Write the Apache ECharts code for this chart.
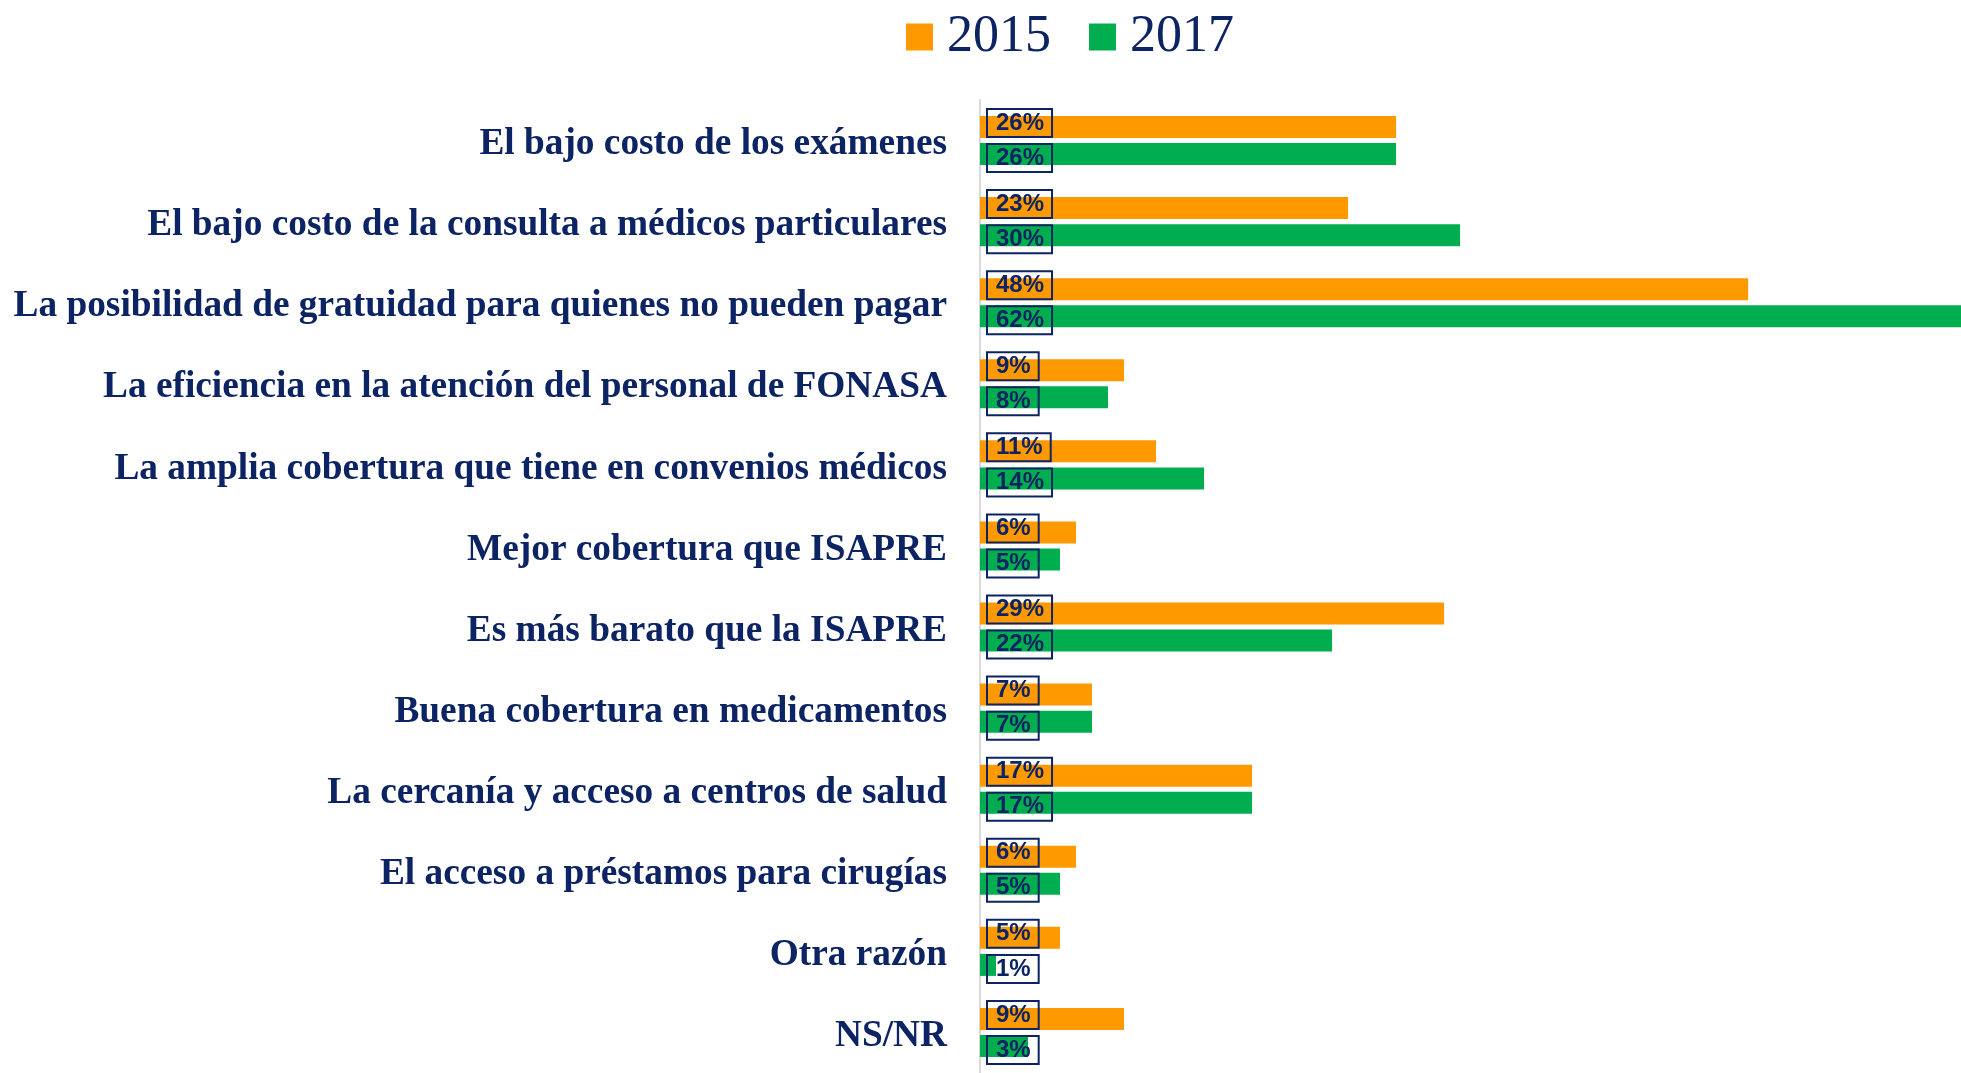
<!DOCTYPE html>
<html>
<head>
<meta charset="utf-8">
<script src="https://cdn.jsdelivr.net/npm/echarts@6/dist/echarts.min.js"></script>
<style>
  html, body { margin: 0; padding: 0; background: #fff; }
  #chart { width: 1961px; height: 1073px; }
</style>
</head>
<body>
<div id="chart"></div>
<script>
// razones para estar en FONASA
const categories = [
  'El bajo costo de los exámenes',
  'El bajo costo de la consulta a médicos particulares',
  'La posibilidad de gratuidad para quienes no pueden pagar',
  'La eficiencia en la atención del personal de FONASA',
  'La amplia cobertura que tiene en convenios médicos',
  'Mejor cobertura que ISAPRE',
  'Es más barato que la ISAPRE',
  'Buena cobertura en medicamentos',
  'La cercanía y acceso a centros de salud',
  'El acceso a préstamos para cirugías',
  'Otra razón',
  'NS/NR'
];
const values2015 = [26, 23, 48, 9, 11, 6, 29, 7, 17, 6, 5, 9];
const values2017 = [26, 30, 62, 8, 14, 5, 22, 7, 17, 5, 1, 3];

const navy = '#0c2464';

function labelCfg(dy) {
  return {
    show: true,
    position: 'insideLeft',
    distance: 7,
    offset: [0, dy],
    formatter: p => p.value + '%',
    color: navy,
    fontFamily: 'Liberation Sans, Arial',
    fontWeight: 'bold',
    fontSize: 24,
    lineHeight: 24,
    borderColor: navy,
    borderWidth: 2,
    padding: [2, 8, 2, 9]
  };
}

const chart = echarts.init(document.getElementById('chart'));
chart.setOption({
  animation: false,
  legend: {
    top: 6,
    left: 901,
    itemWidth: 27,
    itemHeight: 27,
    itemGap: 38,
    icon: 'rect',
    textStyle: {
      color: navy,
      fontFamily: 'Liberation Serif, Times New Roman',
      fontSize: 52,
      padding: [0, 0, 0, 9]
    }
  },
  grid: { left: 980, right: 0, top: 100, height: 983 },
  xAxis: {
    type: 'value',
    min: 0,
    max: 61.3,
    show: false
  },
  yAxis: {
    type: 'category',
    inverse: true,
    data: categories,
    axisLine: { show: true, lineStyle: { color: '#d9d9d9', width: 2 } },
    axisTick: { show: false },
    axisLabel: {
      margin: 33,
      formatter: v => '{c|' + v + '}',
      rich: {
        c: {
          color: navy,
          fontFamily: 'Liberation Serif, Times New Roman',
          fontWeight: 'bold',
          fontSize: 37.35,
          padding: [8, 0, 0, 0]
        }
      }
    }
  },
  series: [
    {
      name: '2015',
      type: 'bar',
      data: values2015,
      barWidth: 22,
      barGap: '23%',
      itemStyle: { color: '#ff9900' },
      label: labelCfg(-4)
    },
    {
      name: '2017',
      type: 'bar',
      data: values2017,
      barWidth: 22,
      itemStyle: { color: '#00ae4f' },
      label: labelCfg(4)
    }
  ]
});
</script>
</body>
</html>
